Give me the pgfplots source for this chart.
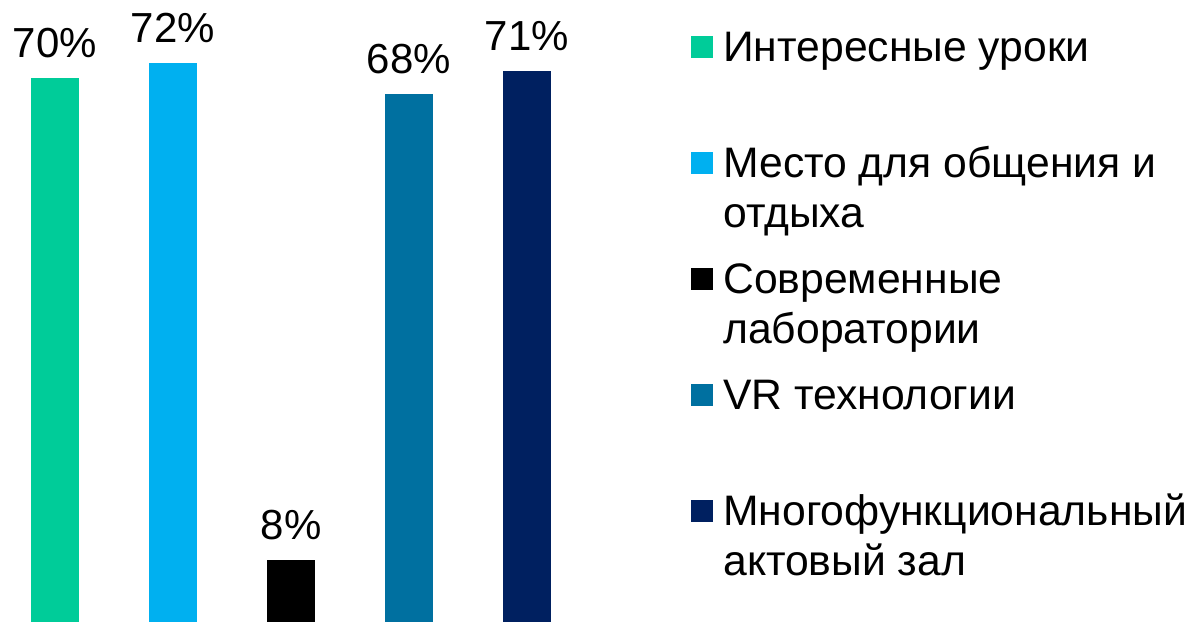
\documentclass[border=0pt]{standalone}
\usepackage{fontspec}
\setmainfont{Liberation Sans}
\usepackage{pgfplots}
\pgfplotsset{compat=1.18}
\definecolor{cgreen}{HTML}{00CC99}
\definecolor{cblue}{HTML}{00B0F0}
\definecolor{cteal}{HTML}{0070A0}
\definecolor{cnavy}{HTML}{002060}
\pgfplotsset{sq legend/.style={legend image code/.code={\fill[##1] (0pt,13.6pt) rectangle (16.5pt,30.1pt);}}}
\begin{document}
\begin{tikzpicture}
\useasboundingbox (0pt,0pt) rectangle (893.25pt,466.5pt);
\begin{axis}[
  at={(0pt,0pt)}, anchor=south west,
  scale only axis, width=442.5pt, height=466.5pt,
  xmin=-0.4661, xmax=4.5339, ymin=0, ymax=80.1,
  axis lines=none, xtick=\empty, ytick=\empty,
  clip=false,
  ybar, bar width=36pt, bar shift=0pt,
  nodes near coords={\pgfmathprintnumber{\pgfplotspointmeta}\%},
  nodes near coords align={anchor=base},
  /pgf/number format/assume math mode=true,
  every node near coord/.append style={anchor=base, yshift=15.4pt, inner sep=0pt, font=\fontsize{31.5}{37}\selectfont, text=black},
  legend cell align=left,
  legend style={at={(1.1712,0.9582)}, anchor=north west, draw=none, fill=none, inner sep=0pt, row sep=12pt, column sep=7.5pt,
    nodes={inner sep=0pt, text depth=, align=left, font=\fontsize{32}{37.5}\selectfont}},
]
\addplot[fill=cgreen, draw=none, sq legend] coordinates {(0,70)};
\addlegendentry{\strut Интересные уроки\\\strut}
\addplot[fill=cblue, draw=none, sq legend] coordinates {(1,72)};
\addlegendentry{\strut Место для общения и\\\strut отдыха}
\addplot[fill=black, draw=none, sq legend] coordinates {(2,8)};
\addlegendentry{\strut Современные\\\strut лаборатории}
\addplot[fill=cteal, draw=none, sq legend] coordinates {(3,68)};
\addlegendentry{\strut VR технологии\\\strut}
\addplot[fill=cnavy, draw=none, sq legend] coordinates {(4,71)};
\addlegendentry{\strut Многофункциональный\\\strut актовый зал}
\end{axis}
\end{tikzpicture}
\end{document}
